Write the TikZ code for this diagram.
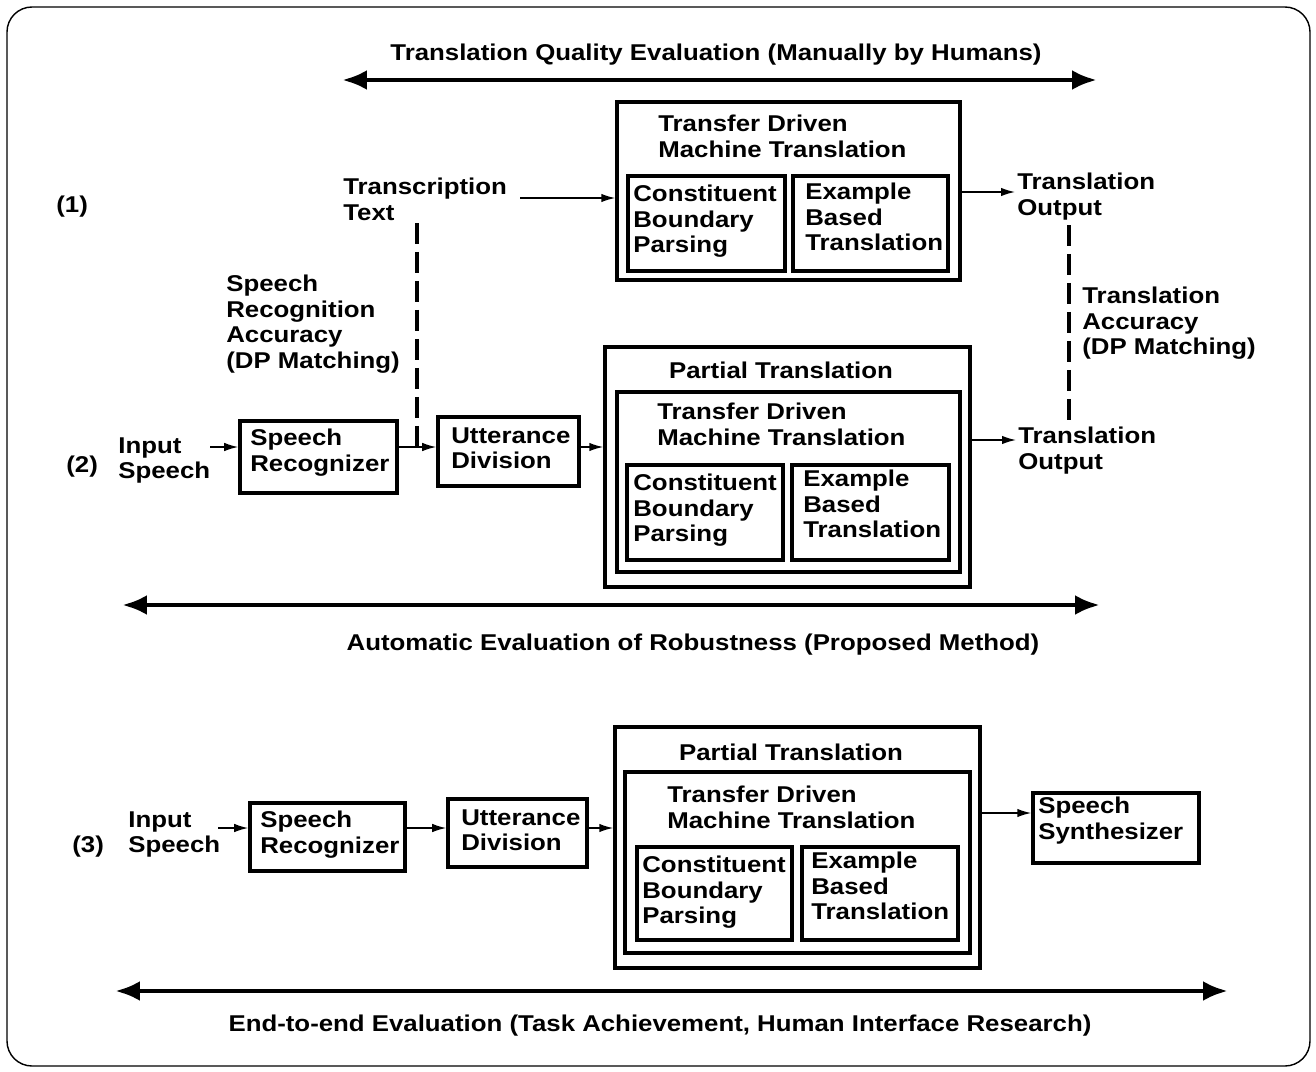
\documentclass[tikz,border=0pt]{standalone}
\usepackage{fontspec}
\setmainfont{Liberation Sans}[FakeStretch=1.13]
\usetikzlibrary{arrows.meta,fit}
\begin{document}
\begin{tikzpicture}[x=0.02cm,y=-0.02cm,
  txt/.style={inner sep=0pt,align=left,anchor=north west,font=\fontsize{13}{14.5}\selectfont\bfseries},
  ctxt/.style={inner sep=0pt,anchor=base,font=\fontsize{13}{14.5}\selectfont\bfseries},
  box/.style={draw,line width=2pt,inner sep=0pt},
  arr/.style={line width=0.9pt,-{Latex[length=0.28cm,width=0.17cm]}},
  bigarr/.style={line width=2.8pt,{Latex[length=0.5cm,width=0.4cm]}-{Latex[length=0.5cm,width=0.4cm]}},
  dashline/.style={line width=2.6pt,dash pattern=on 0.42cm off 0.16cm}]
\useasboundingbox (0,0) rectangle (1316,1072);
\draw[line width=0.8pt,rounded corners=0.5cm] (7,7) rectangle (1310,1066);

% evaluation arrows
\coordinate (qaL) at (342,80); \coordinate (qaR) at (1097,80);
\draw[bigarr] (qaL) -- (qaR);
\node[ctxt] (qalab) at (716,60) {Translation Quality Evaluation (Manually by Humans)};
\coordinate (aeL) at (122,605); \coordinate (aeR) at (1100,605);
\draw[bigarr] (aeL) -- (aeR);
\node[ctxt] (aelab) at (693,650) {Automatic Evaluation of Robustness (Proposed Method)};
\coordinate (eeL) at (115,991); \coordinate (eeR) at (1228,991);
\draw[bigarr] (eeL) -- (eeR);
\node[ctxt] (eelab) at (660,1031) {End-to-end Evaluation (Task Achievement, Human Interface Research)};

% row labels
\node[ctxt,anchor=base west] (r1) at (56,212) {(1)};
\node[ctxt,anchor=base west] (r2) at (66,472) {(2)};
\node[ctxt,anchor=base west] (r3) at (72,852) {(3)};

% ---------- row 1
\node[txt] (trans) at (343,178) {Transcription\\Text};
\coordinate (transR) at (520,198);
\node[box,fit={(617,102)(960,280)}] (tdmt1) {};
\node[txt] (tdmt1t) at (658,115) {Transfer Driven\\Machine Translation};
\node[box,fit={(628,176)(785,271)}] (cb1) {};
\node[txt] (cb1t) at (633,185) {Constituent\\Boundary\\Parsing};
\node[box,fit={(793,176)(948,271)}] (eb1) {};
\node[txt] (eb1t) at (805,183) {Example\\Based\\Translation};
\node[txt] (out1) at (1017,173) {Translation\\Output};
\draw[arr] (transR) -- (transR -| tdmt1.west);
\coordinate (o1L) at (960,192); \coordinate (o1R) at (1015,192);
\draw[arr] (o1L) -- (o1R);

\node[txt] (sra) at (226,275) {Speech\\Recognition\\Accuracy\\(DP Matching)};
\node[txt] (tra) at (1082,287) {Translation\\Accuracy\\(DP Matching)};

% ---------- row 2
\node[txt] (in2) at (118,437) {Input\\Speech};
\coordinate (in2R) at (210,447);
\node[box,fit={(240,421)(397,493)}] (sr2) {};
\node[txt] (sr2t) at (250,429) {Speech\\Recognizer};
\node[box,fit={(438,417)(579,486)}] (ud2) {};
\node[txt] (ud2t) at (451,427) {Utterance\\Division};
\node[box,fit={(605,347)(970,587)}] (pt2) {};
\node[ctxt] (pt2t) at (781,378) {Partial Translation};
\node[box,fit={(617,392)(960,572)}] (tdmt2) {};
\node[txt] (tdmt2t) at (657,403) {Transfer Driven\\Machine Translation};
\node[box,fit={(627,465)(783,560)}] (cb2) {};
\node[txt] (cb2t) at (633,474) {Constituent\\Boundary\\Parsing};
\node[box,fit={(792,465)(949,560)}] (eb2) {};
\node[txt] (eb2t) at (803,470) {Example\\Based\\Translation};
\node[txt] (out2) at (1018,427) {Translation\\Output};
\draw[arr] (in2R) -- (in2R -| sr2.west);
\draw[arr] (in2R -| sr2.east) -- (in2R -| ud2.west);
\draw[arr] (in2R -| ud2.east) -- (in2R -| pt2.west);
\coordinate (o2R) at (1016,440);
\draw[arr] (o2R -| pt2.east) -- (o2R);

% dashed accuracy lines
\coordinate (ds1) at (417,223); \coordinate (ds2) at (417,447);
\draw[dashline] (ds1) -- (ds2);
\coordinate (dt1) at (1069,225); \coordinate (dt2) at (1069,420);
\draw[dashline] (dt1) -- (dt2);

% ---------- row 3
\node[txt] (in3) at (128,811) {Input\\Speech};
\coordinate (in3R) at (218,828);
\node[box,fit={(250,803)(405,871)}] (sr3) {};
\node[txt] (sr3t) at (260,811) {Speech\\Recognizer};
\node[box,fit={(448,799)(587,867)}] (ud3) {};
\node[txt] (ud3t) at (461,809) {Utterance\\Division};
\node[box,fit={(615,727)(980,968)}] (pt3) {};
\node[ctxt] (pt3t) at (791,760) {Partial Translation};
\node[box,fit={(625,772)(970,953)}] (tdmt3) {};
\node[txt] (tdmt3t) at (667,786) {Transfer Driven\\Machine Translation};
\node[box,fit={(637,847)(792,940)}] (cb3) {};
\node[txt] (cb3t) at (642,856) {Constituent\\Boundary\\Parsing};
\node[box,fit={(802,847)(958,940)}] (eb3) {};
\node[txt] (eb3t) at (811,852) {Example\\Based\\Translation};
\node[box,fit={(1033,793)(1199,863)}] (syn) {};
\node[txt] (synt) at (1038,797) {Speech\\Synthesizer};
\draw[arr] (in3R) -- (in3R -| sr3.west);
\draw[arr] (in3R -| sr3.east) -- (in3R -| ud3.west);
\draw[arr] (in3R -| ud3.east) -- (in3R -| pt3.west);
\coordinate (o3) at (1000,813);
\draw[arr] (o3 -| pt3.east) -- (o3 -| syn.west);
\end{tikzpicture}
\end{document}
